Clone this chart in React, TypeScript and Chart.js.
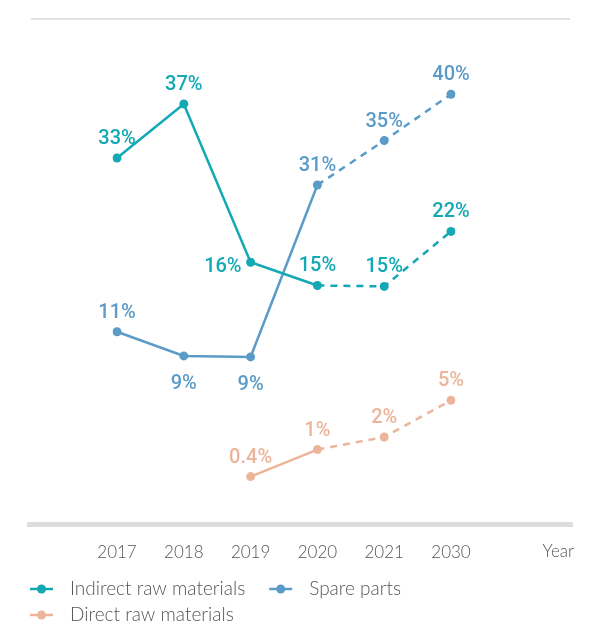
import React, { useEffect, useRef } from "react";
import { Chart, registerables } from "chart.js";

Chart.register(...registerables);

// ---- data ----
const years = ["2017", "2018", "2019", "2020", "2021", "2030"];
const axisTitle = "Year";

// plotted level of each point (as drawn in the picture) and printed value
const indirectValues = [33.4, 39.0, 22.6, 20.2, 20.1, 25.8];
const indirectLabels = ["33%", "37%", "16%", "15%", "15%", "22%"];

const spareValues = [15.4, 12.9, 12.8, 30.6, 35.2, 40.0];
const spareLabels = ["11%", "9%", "9%", "31%", "35%", "40%"];

const directValues = [null, null, 0.4, 3.2, 4.5, 8.3];
const directLabels = [null, null, "0.4%", "1%", "2%", "5%"];

const seriesNames = ["Indirect raw materials", "Spare parts", "Direct raw materials"];

// ---- styles ----
const COLORS = ["#12a9b5", "#5a9bc8", "#ecb59b"];
const PLACEMENT = [
  ["top", "top", "left", "top", "top", "top"],
  ["top", "bottom", "bottom", "top", "top", "top"],
  [null, null, "top", "top", "top", "top"],
];
const TEXT_FONT = "Lato, 'Noto Sans', sans-serif";
const LABEL_FONT = "Roboto, 'DejaVu Sans', sans-serif";
const TEXT_COLOR = "#555555";

const LABELS = [indirectLabels, spareLabels, directLabels];

const decorPlugin = {
  id: "decor",
  beforeDatasetsDraw(chart: any) {
    const ctx = chart.ctx;
    const area = chart.chartArea;
    ctx.save();
    ctx.strokeStyle = "#e2e2e2";
    ctx.lineWidth = 2;
    ctx.beginPath();
    ctx.moveTo(31, area.top + 1);
    ctx.lineTo(570, area.top + 1);
    ctx.stroke();
    ctx.strokeStyle = "#dddddd";
    ctx.lineWidth = 5;
    ctx.beginPath();
    ctx.moveTo(27, area.bottom);
    ctx.lineTo(573, area.bottom);
    ctx.stroke();
    ctx.restore();
  },
  afterDraw(chart: any) {
    const ctx = chart.ctx;
    const xs = chart.scales.x;
    ctx.save();
    ctx.font = `300 17px ${TEXT_FONT}`;
    ctx.fillStyle = TEXT_COLOR;
    ctx.textAlign = "right";
    ctx.textBaseline = "middle";
    ctx.fillText(axisTitle, 574, xs.top + 27);
    ctx.restore();
  },
};

const valueLabelPlugin = {
  id: "valueLabels",
  afterDatasetsDraw(chart: any) {
    const ctx = chart.ctx;
    ctx.save();
    ctx.font = `500 20px ${LABEL_FONT}`;
    chart.data.datasets.forEach((ds: any, di: number) => {
      const meta = chart.getDatasetMeta(di);
      meta.data.forEach((pt: any, i: number) => {
        const text = LABELS[di][i];
        const place = PLACEMENT[di][i];
        if (!text || !place || ds.data[i] == null) return;
        ctx.fillStyle = COLORS[di];
        ctx.textBaseline = "alphabetic";
        if (place === "top") {
          ctx.textAlign = "center";
          ctx.fillText(text, pt.x, pt.y - 14);
        } else if (place === "bottom") {
          ctx.textAlign = "center";
          ctx.fillText(text, pt.x, pt.y + 33);
        } else if (place === "left") {
          ctx.textAlign = "right";
          ctx.fillText(text, pt.x - 9, pt.y + 10);
        }
      });
    });
    ctx.restore();
  },
};

const legendPlugin = {
  id: "customLegend",
  afterDraw(chart: any) {
    const ctx = chart.ctx;
    ctx.save();
    ctx.font = `300 19px ${TEXT_FONT}`;
    ctx.textBaseline = "middle";
    ctx.textAlign = "left";
    const startX = 30;
    let x = startX;
    let y = 589;
    chart.data.datasets.forEach((ds: any, di: number) => {
      const tw = ctx.measureText(ds.label).width;
      const w = 23 + 17 + tw;
      if (x > startX && x + w > 585) {
        x = startX;
        y += 26;
      }
      ctx.strokeStyle = COLORS[di];
      ctx.fillStyle = COLORS[di];
      ctx.lineWidth = 2.5;
      ctx.beginPath();
      ctx.moveTo(x, y);
      ctx.lineTo(x + 23, y);
      ctx.stroke();
      ctx.beginPath();
      ctx.arc(x + 11.5, y, 4.5, 0, Math.PI * 2);
      ctx.fill();
      ctx.fillStyle = TEXT_COLOR;
      ctx.fillText(ds.label, x + 40, y);
      x += w + 24;
    });
    ctx.restore();
  },
};

export default function App() {
  const ref = useRef<HTMLCanvasElement | null>(null);

  useEffect(() => {
    if (!ref.current) return;
    const valueSets = [indirectValues, spareValues, directValues];
    const chart = new Chart(ref.current, {
      type: "line",
      data: {
        labels: years,
        datasets: valueSets.map((vals, di) => ({
          label: seriesNames[di],
          data: vals as any,
          borderColor: COLORS[di],
          backgroundColor: COLORS[di],
          pointBackgroundColor: COLORS[di],
          pointBorderWidth: 0,
          pointRadius: 4.5,
          pointHoverRadius: 4.5,
          borderWidth: 2.5,
          tension: 0,
          fill: false,
          segment: {
            borderDash: (c: any) => (c.p0DataIndex >= 3 ? [7, 6] : undefined),
          },
        })),
      },
      options: {
        responsive: false,
        animation: false,
        events: [],
        layout: { padding: { left: 117, right: 151, top: 18, bottom: 53 } },
        plugins: {
          legend: { display: false },
          tooltip: { enabled: false },
        },
        scales: {
          x: {
            type: "category",
            offset: false,
            grid: { display: false },
            border: { display: false },
            ticks: {
              color: TEXT_COLOR,
              font: { family: TEXT_FONT, size: 17, weight: 300 as any },
              padding: 10,
              maxRotation: 0,
              autoSkip: false,
            },
          },
          y: { display: false, min: -4.57, max: 47.9 },
        },
      },
      plugins: [decorPlugin, valueLabelPlugin, legendPlugin],
    });
    return () => chart.destroy();
  }, []);

  return (
    <div style={{ position: "absolute", left: 0, top: 0, width: 602, height: 626 }}>
      <canvas ref={ref} width={602} height={626} style={{ width: 602, height: 626 }} />
    </div>
  );
}
